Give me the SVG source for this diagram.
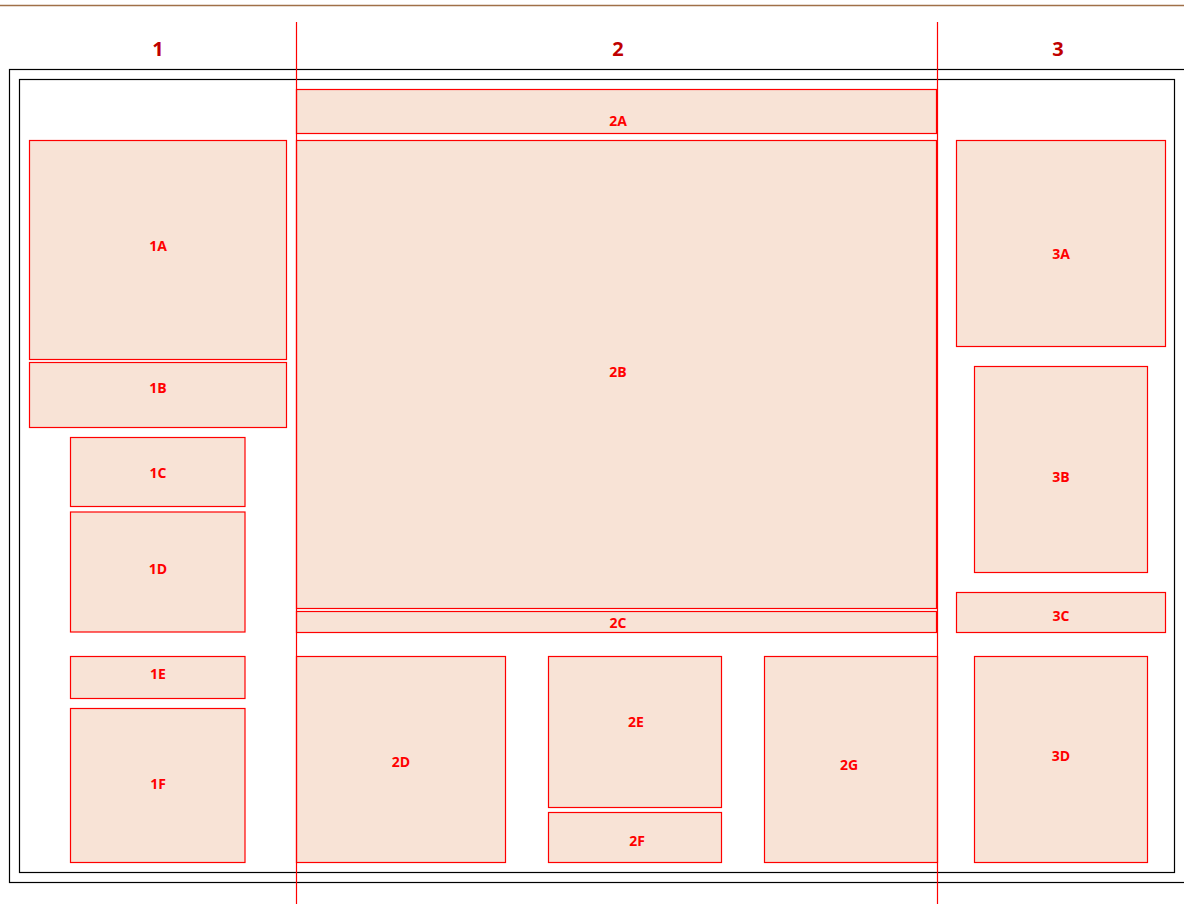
<svg xmlns="http://www.w3.org/2000/svg" width="1184" height="904" viewBox="0 0 1184 904">
<style>
.box{fill:#f8e3d6;stroke:#ff0000;stroke-width:1.2}
.lbl{font-family:"Open Sans","Liberation Sans",sans-serif;font-weight:bold;font-size:14px;fill:#ff0000;text-anchor:middle;dominant-baseline:central}
.hdr{font-family:"Open Sans","Liberation Sans",sans-serif;font-weight:bold;font-size:20px;fill:#c00000;text-anchor:middle;dominant-baseline:central}
.frame{fill:none;stroke:#000;stroke-width:1.2}
.guide{stroke:#ff0000;stroke-width:1.2}
</style>
<rect width="1184" height="904" fill="#fff"/>
<line x1="0" y1="5.5" x2="1184" y2="5.5" stroke="#a07048" stroke-width="1.5"/>
<g id="headers">
<text class="hdr" x="158" y="48">1</text>
<text class="hdr" x="618" y="48">2</text>
<text class="hdr" x="1058" y="48">3</text>
</g>
<rect class="frame" x="9.5" y="69.5" width="1190" height="813"/>
<rect class="frame" x="19.5" y="79.5" width="1155" height="793"/>
<g id="n1A"><rect class="box" x="29.5" y="140.5" width="257" height="219"/><text class="lbl" x="158" y="245">1A</text></g>
<g id="n1B"><rect class="box" x="29.5" y="362.5" width="257" height="65"/><text class="lbl" x="158" y="387">1B</text></g>
<g id="n1C"><rect class="box" x="70.5" y="437.5" width="174.5" height="69"/><text class="lbl" x="158" y="472">1C</text></g>
<g id="n1D"><rect class="box" x="70.5" y="512" width="174.5" height="120"/><text class="lbl" x="158" y="568">1D</text></g>
<g id="n1E"><rect class="box" x="70.5" y="656.5" width="174.5" height="42"/><text class="lbl" x="158" y="673">1E</text></g>
<g id="n1F"><rect class="box" x="70.5" y="708.5" width="174.5" height="154"/><text class="lbl" x="158" y="783">1F</text></g>
<g id="n2A"><rect class="box" x="296.5" y="89.5" width="640" height="44"/><text class="lbl" x="618" y="120">2A</text></g>
<g id="n2B"><rect class="box" x="296.5" y="140.5" width="640" height="468"/><text class="lbl" x="618" y="371">2B</text></g>
<g id="n2C"><rect class="box" x="296.5" y="611.5" width="640" height="21"/><text class="lbl" x="618" y="622">2C</text></g>
<g id="n2D"><rect class="box" x="296.5" y="656.5" width="209" height="206"/><text class="lbl" x="401" y="761">2D</text></g>
<g id="n2E"><rect class="box" x="548.5" y="656.5" width="173" height="151"/><text class="lbl" x="636" y="721">2E</text></g>
<g id="n2F"><rect class="box" x="548.5" y="812.5" width="173" height="50"/><text class="lbl" x="637" y="840">2F</text></g>
<g id="n2G"><rect class="box" x="764.5" y="656.5" width="173" height="206"/><text class="lbl" x="849" y="764">2G</text></g>
<g id="n3A"><rect class="box" x="956.5" y="140.5" width="209" height="206"/><text class="lbl" x="1061" y="253">3A</text></g>
<g id="n3B"><rect class="box" x="974.5" y="366.5" width="173" height="206"/><text class="lbl" x="1061" y="476">3B</text></g>
<g id="n3C"><rect class="box" x="956.5" y="592.5" width="209" height="40"/><text class="lbl" x="1061" y="615">3C</text></g>
<g id="n3D"><rect class="box" x="974.5" y="656.5" width="173" height="206"/><text class="lbl" x="1061" y="755">3D</text></g>
<g id="connectors">
<line class="guide" x1="296.5" y1="22" x2="296.5" y2="904"/>
<line class="guide" x1="937.5" y1="22" x2="937.5" y2="904"/>
</g>
</svg>
